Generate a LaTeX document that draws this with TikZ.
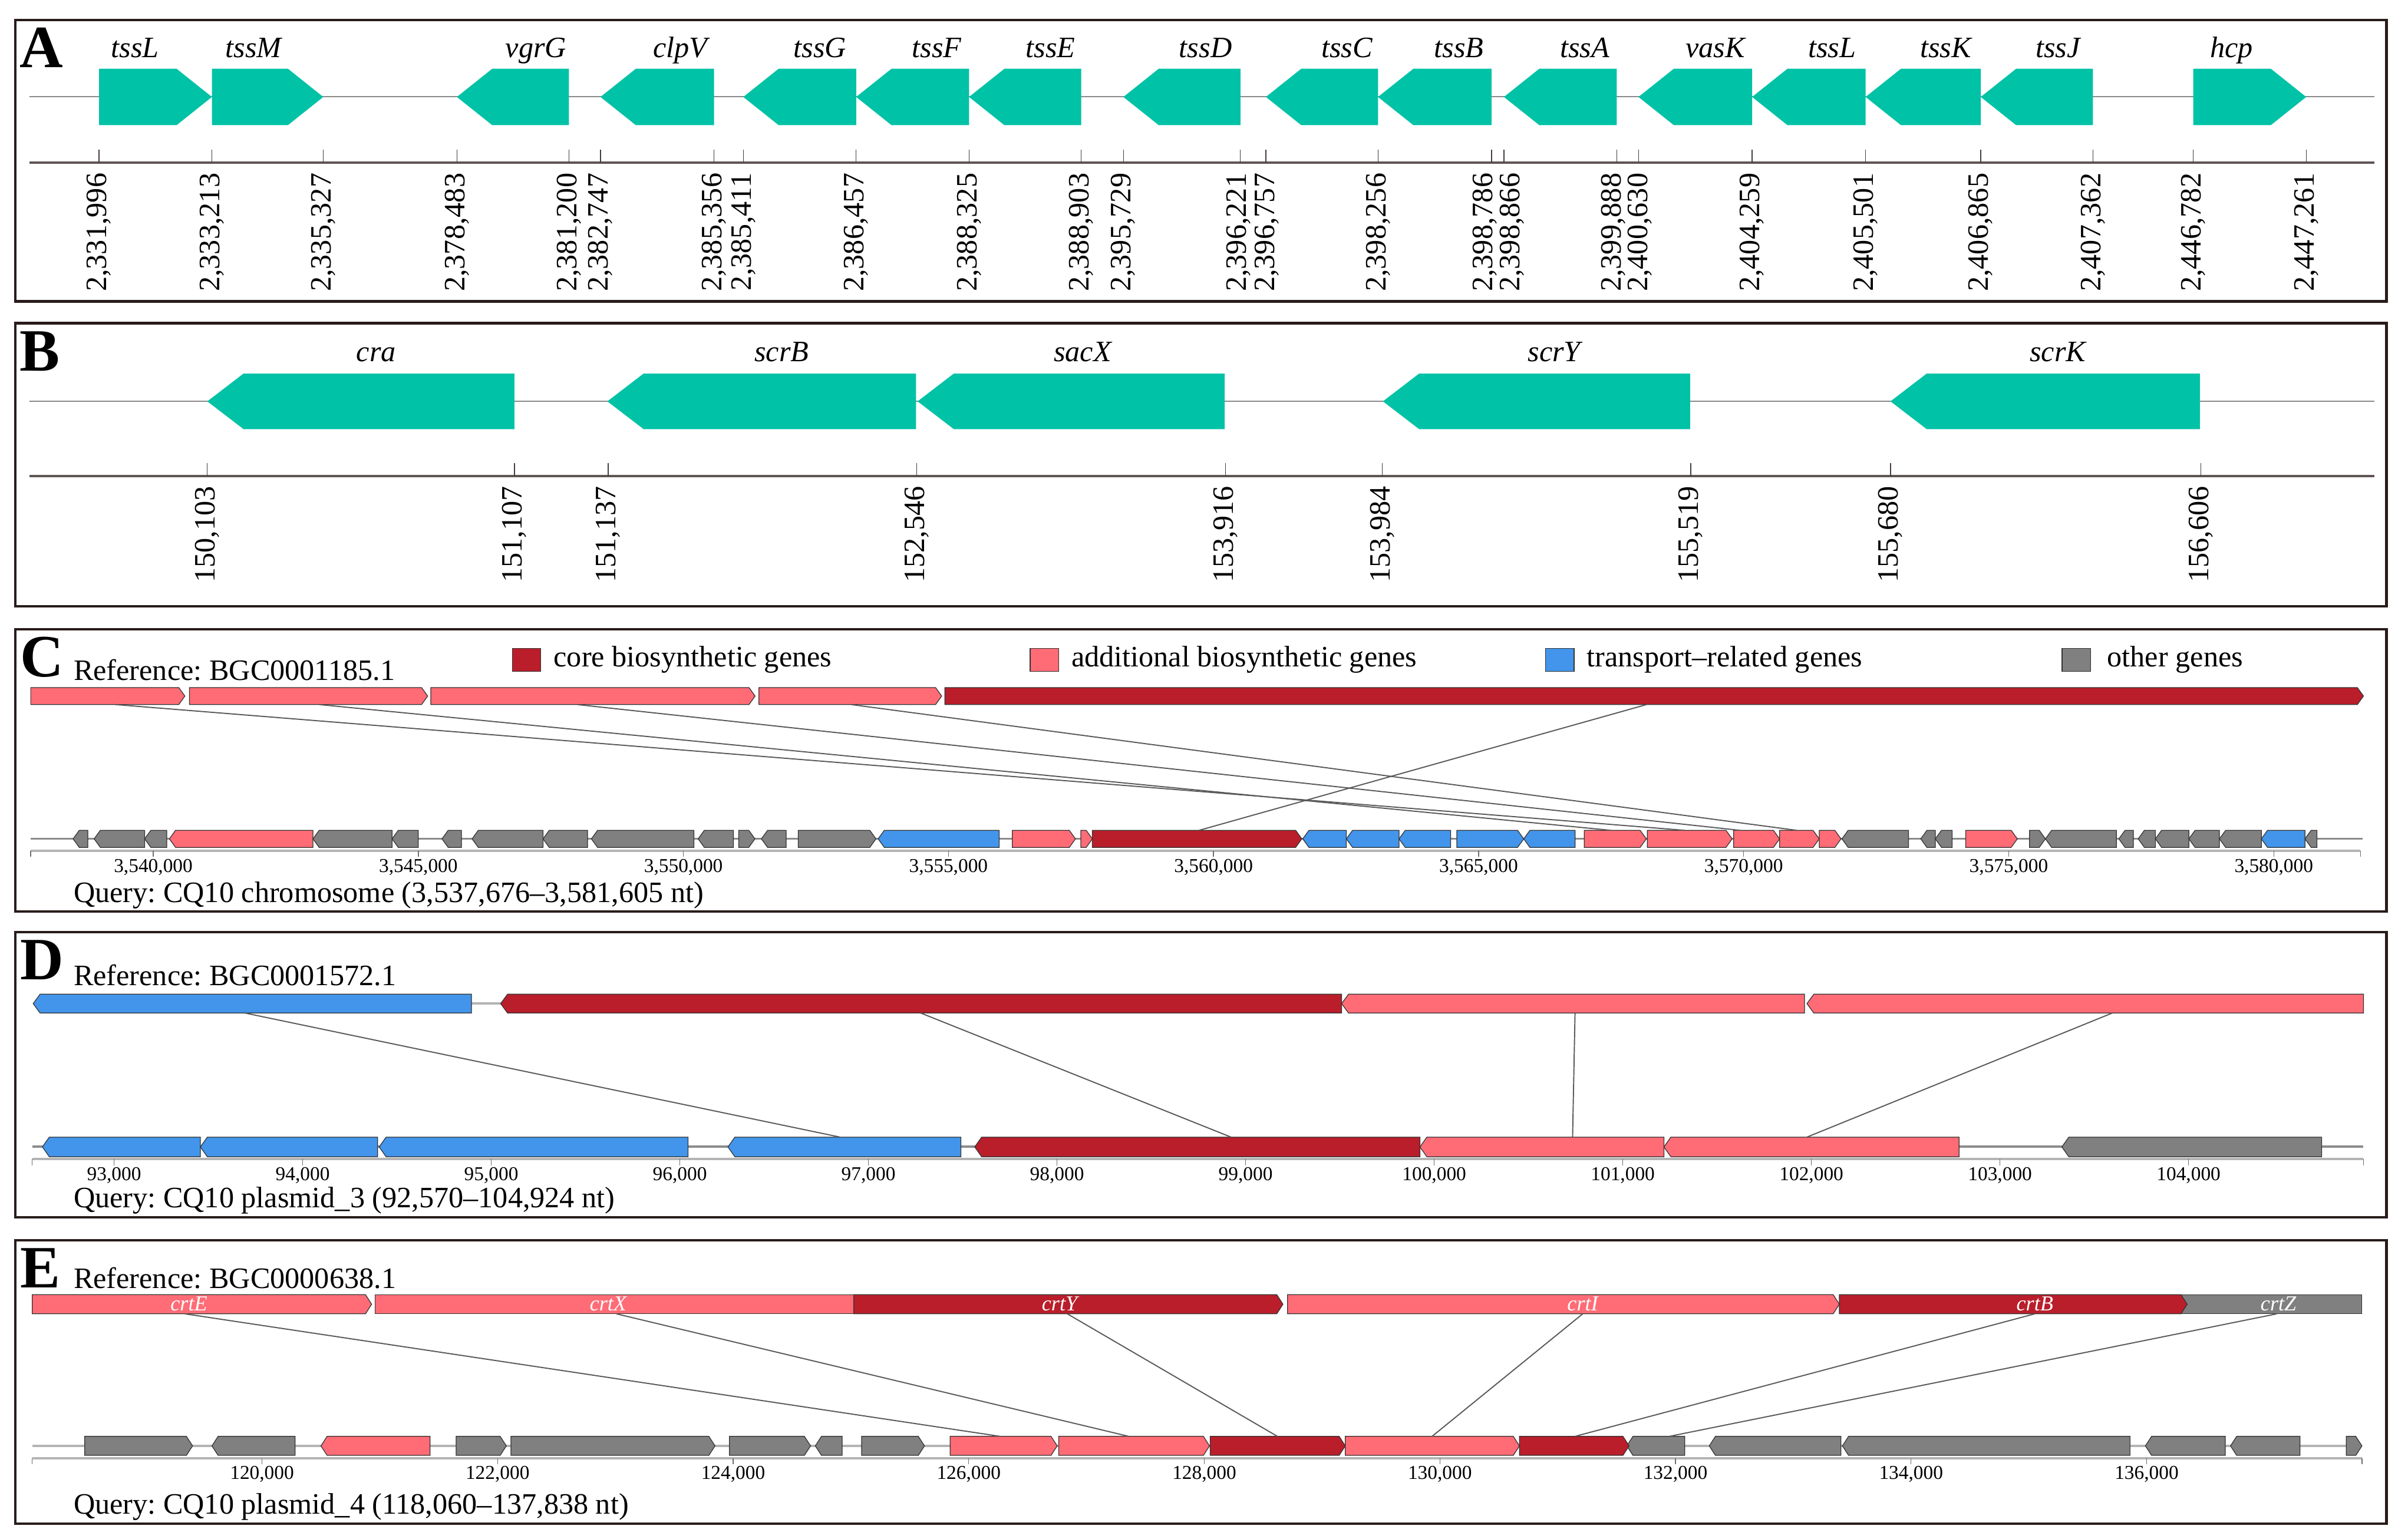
\documentclass[tikz,border=0pt]{standalone}
\usepackage{fontspec}
\setmainfont{Liberation Serif}
\definecolor{cteal}{RGB}{0,194,166}
\definecolor{ccore}{RGB}{185,30,42}
\definecolor{cadd}{RGB}{255,108,118}
\definecolor{ctrans}{RGB}{66,149,234}
\definecolor{cother}{RGB}{128,128,128}
\definecolor{cframe}{RGB}{40,28,26}
\definecolor{cbbone}{RGB}{138,138,138}
\definecolor{caxisA}{RGB}{95,85,85}
\definecolor{ctickA}{RGB}{70,60,60}
\definecolor{caxisS}{RGB}{180,180,180}
\definecolor{ctickS}{RGB}{110,110,110}
\definecolor{cqbone}{RGB}{140,140,140}
\definecolor{cconn}{RGB}{90,90,90}
\newcommand\gT{0}\newcommand\gB{0}\newcommand\gP{0}
\newcommand\settrack[3]{\renewcommand\gT{#1}\renewcommand\gB{#2}\renewcommand\gP{#3}}
\newcommand\geneR[3]{\filldraw[#3] (#1,\gT) -- ({max(#1,#2-\gP)},\gT) -- (#2,{(\gT+\gB)/2}) -- ({max(#1,#2-\gP)},\gB) -- (#1,\gB) -- cycle;}
\newcommand\geneL[3]{\filldraw[#3] (#2,\gT) -- ({min(#2,#1+\gP)},\gT) -- (#1,{(\gT+\gB)/2}) -- ({min(#2,#1+\gP)},\gB) -- (#2,\gB) -- cycle;}
\newcommand\geneBox[3]{\filldraw[#3] (#1,\gT) rectangle (#2,\gB);}
\tikzset{
  panel/.style={draw=cframe,line width=1.2pt},
  tg/.style={fill=cteal,draw=none},
  gcore/.style={fill=ccore,draw=black!80,line width=0.35pt},
  gadd/.style={fill=cadd,draw=black!80,line width=0.35pt},
  gtrans/.style={fill=ctrans,draw=black!80,line width=0.35pt},
  gother/.style={fill=cother,draw=black!80,line width=0.35pt},
  plet/.style={font=\fontsize{29}{32}\selectfont\bfseries,inner sep=0pt,anchor=base west},
  txt/.style={font=\fontsize{14.3}{17}\selectfont,inner sep=0pt,anchor=base west},
  glab/.style={font=\fontsize{14.3}{17}\selectfont\itshape,inner sep=0pt,anchor=base},
  tlabA/.style={font=\fontsize{14.3}{17}\selectfont,inner sep=0pt,rotate=90,anchor=east},
  tlabS/.style={font=\fontsize{9.5}{11}\selectfont,inner sep=0pt,anchor=base},
  elab/.style={font=\fontsize{10.3}{12}\selectfont\itshape,text=white,inner sep=0pt},
  bbone/.style={draw=cbbone,line width=0.6pt},
  axisA/.style={draw=caxisA,line width=1.1pt},
  tickA/.style={draw=ctickA,line width=0.4pt},
  axisS/.style={draw=caxisS,line width=1.2pt},
  tickS/.style={draw=ctickS,line width=0.4pt},
  qbone/.style={draw=cqbone,line width=1.0pt},
  conn/.style={draw=cconn,line width=0.55pt},
}
\begin{document}
\frenchspacing
\begin{tikzpicture}[x=0.2606mm,y=-0.2606mm]
\useasboundingbox (0,0) rectangle (1568,1002);
\fill[white] (0,0) rectangle (1568,1002);
% ---------------- frames
\draw[panel] (10,13) rectangle (1554,196.3);
\draw[panel] (10,210.5) rectangle (1554,395);
\draw[panel] (10,409.9) rectangle (1554,593.8);
\draw[panel] (10,607) rectangle (1554,792.8);
\draw[panel] (10,807.8) rectangle (1554,992.3);
\node[plet] (LA) at (12.5,44) {A};
\node[plet] (LB) at (12.5,241.5) {B};
\node[plet] (LC) at (13,440.6) {C};
\node[plet] (LD) at (13,638) {D};
\node[plet] (LE) at (13,838.5) {E};
% ---------------- panel A
\draw[bbone] (19,63) -- (1546,63);
\draw[axisA] (19,106) -- (1546,106);
\settrack{44.8}{81.5}{23}
\geneR{64.5}{138}{tg}
\geneR{138}{210.5}{tg}
\geneL{297.5}{370.5}{tg}
\geneL{391}{465}{tg}
\geneL{484}{557.5}{tg}
\geneL{557.5}{631}{tg}
\geneL{631}{704}{tg}
\geneL{731.5}{807.7}{tg}
\geneL{824.3}{897.3}{tg}
\geneL{897.3}{971.2}{tg}
\geneL{979.3}{1052.8}{tg}
\geneL{1066.9}{1140.9}{tg}
\geneL{1140.9}{1214.8}{tg}
\geneL{1214.8}{1289.8}{tg}
\geneL{1289.8}{1362.8}{tg}
\geneR{1428.2}{1501.7}{tg}
\foreach \x/\gname [count=\k] in {88/tssL,165/tssM,349/vgrG,443/clpV,534/tssG,610/tssF,684/tssE,785/tssD,877/tssC,950/tssB,1032/tssA,1117/vasK,1193/tssL,1267/tssK,1340/tssJ,1453/hcp}
  \node[glab] (ga\k) at (\x,37.3) {\gname};
\foreach \x/\lx/\tklab [count=\k] in {64.5/64.5/{2,331,996},138/138/{2,333,213},210.5/210.5/{2,335,327},297.5/297.5/{2,378,483},370.5/370.5/{2,381,200},391/391/{2,382,747},465/465/{2,385,356},484/484/{2,385,411},557.5/557.5/{2,386,457},631/631/{2,388,325},704/704/{2,388,903},731.5/731.5/{2,395,729},807.7/806.5/{2,396,221},824.3/825/{2,396,757},897.3/897.3/{2,398,256},971.2/967/{2,398,786},979.3/984.5/{2,398,866},1052.8/1050.5/{2,399,888},1066.9/1068/{2,400,630},1140.9/1140.9/{2,404,259},1214.8/1214.8/{2,405,501},1289.8/1289.8/{2,406,865},1362.8/1362.8/{2,407,362},1428.2/1428.2/{2,446,782},1501.7/1501.7/{2,447,261}}
{
  \draw[tickA] (\x,97.6) -- (\x,106);
  \node[tlabA] (ta\k) at (\lx,112.5) {\tklab};
}
% ---------------- panel B
\draw[bbone] (19,261.4) -- (1546,261.4);
\draw[axisA] (19,310) -- (1546,310);
\settrack{243.3}{279.5}{23.6}
\geneL{135}{335}{tg}
\geneL{395.5}{596.5}{tg}
\geneL{597.5}{797.5}{tg}
\geneL{900.5}{1100.5}{tg}
\geneL{1231}{1432.5}{tg}
\foreach \x/\gname [count=\k] in {245/cra,509/scrB,705/sacX,1012/scrY,1340/scrK}
  \node[glab] (gb\k) at (\x,235.5) {\gname};
\foreach \x/\tklab [count=\k] in {135/{150,103},335/{151,107},396/{151,137},597/{152,546},798/{153,916},900/{153,984},1101/{155,519},1231/{155,680},1433/{156,606}}
{
  \draw[tickA] (\x,301.5) -- (\x,310);
  \node[tlabA] (tb\k) at (\x,316.5) {\tklab};
}
% ---------------- panel C
\node[txt] (refC) at (47.7,443.2) {Reference: BGC0001185.1};
\filldraw[gcore] (333.7,422.4) rectangle (352.2,437.2);
\node[txt] (legcore) at (360.3,434.3) {core biosynthetic genes};
\filldraw[gadd] (670.8,422.4) rectangle (689.3,437.2);
\node[txt] (legadd) at (697.4,434.3) {additional biosynthetic genes};
\filldraw[gtrans] (1006.5,422.4) rectangle (1025,437.2);
\node[txt] (legtrans) at (1033.1,434.3) {transport\textendash related genes};
\filldraw[gother] (1342.7,422.4) rectangle (1361.2,437.2);
\node[txt] (legother) at (1371.9,434.3) {other genes};
\settrack{447.8}{458.9}{4}
\geneR{20}{120.4}{gadd}
\geneR{123.4}{278.5}{gadd}
\geneR{280.5}{491.7}{gadd}
\geneR{494.2}{613.2}{gadd}
\geneR{615.2}{1539}{gcore}
\draw[qbone] (20,546.3) -- (1538.6,546.3);
\draw[axisS] (20,554.2) -- (1537,554.2);
\draw[tickS] (20,554.2) -- (20,557.8);
\draw[tickS] (1537,554.2) -- (1537,557.8);
\foreach \i/\tklab in {0/{3,540,000},1/{3,545,000},2/{3,550,000},3/{3,555,000},4/{3,560,000},5/{3,565,000},6/{3,570,000},7/{3,575,000},8/{3,580,000}}
{
  \draw[tickS] ({99.8+\i*172.6},554.2) -- ({99.8+\i*172.6},557.8);
  \node[tlabS] (tc\i) at ({99.8+\i*172.6},568.2) {\tklab};
}
\settrack{540.8}{551.9}{4}
\geneL{47.6}{57.2}{gother}
\geneL{61.3}{94.2}{gother}
\geneL{94.2}{108.6}{gother}
\geneL{110.3}{203.8}{gadd}
\geneL{203.8}{255.3}{gother}
\geneL{255.3}{272.4}{gother}
\geneL{287.8}{300.5}{gother}
\geneL{307.4}{353.6}{gother}
\geneL{353.6}{382.6}{gother}
\geneL{385.1}{451.9}{gother}
\geneL{454.6}{477.6}{gother}
\geneR{481}{491.6}{gother}
\geneL{495.8}{511.9}{gother}
\geneR{519.8}{570.4}{gother}
\geneL{571.8}{650.6}{gtrans}
\geneR{659.2}{700.3}{gadd}
\geneR{703.8}{711.3}{gadd}
\geneR{711.3}{847.7}{gcore}
\geneL{848.3}{876.7}{gtrans}
\geneL{876.7}{911}{gtrans}
\geneL{911}{944.6}{gtrans}
\geneR{948.6}{992.2}{gtrans}
\geneL{992.2}{1025.7}{gtrans}
\geneR{1031.6}{1072}{gadd}
\geneR{1072.7}{1127.9}{gadd}
\geneR{1128.9}{1158.8}{gadd}
\geneR{1158.8}{1184.6}{gadd}
\geneR{1184.6}{1198.8}{gadd}
\geneL{1199.4}{1242.8}{gother}
\geneL{1250.7}{1260.2}{gother}
\geneL{1260.2}{1271.2}{gother}
\geneR{1280}{1313.6}{gadd}
\geneR{1321.5}{1331.9}{gother}
\geneL{1331.9}{1378.1}{gother}
\geneL{1379.7}{1389.2}{gother}
\geneL{1392.3}{1403.5}{gother}
\geneL{1403.5}{1425.3}{gother}
\geneL{1425.3}{1445.2}{gother}
\geneL{1445.2}{1472.5}{gother}
\geneL{1472.5}{1500.9}{gtrans}
\geneL{1500.9}{1508.7}{gother}
\coordinate (c1s) at (75.3,458.9);   \coordinate (c1e) at (1097,540.8);
\coordinate (c2s) at (208,458.9);    \coordinate (c2e) at (1049,540.8);
\coordinate (c3s) at (376,458.9);    \coordinate (c3e) at (1133,540.8);
\coordinate (c4s) at (554.4,458.9);  \coordinate (c4e) at (1170,540.8);
\coordinate (c5s) at (1072.1,458.9); \coordinate (c5e) at (780.8,540.8);
\foreach \k in {1,...,5} \draw[conn] (c\k s) -- (c\k e);
\node[txt] (qC) at (47.7,587.8) {Query: CQ10 chromosome (3,537,676\textendash 3,581,605 nt)};
% ---------------- panel D
\node[txt] (refD) at (47.7,642) {Reference: BGC0001572.1};
\draw[axisS] (307,653.6) -- (326,653.6);
\settrack{647.5}{659.8}{4.5}
\geneL{21.6}{307}{gtrans}
\geneL{326}{873.6}{gcore}
\geneL{873.6}{1175}{gadd}
\geneL{1176.6}{1539}{gadd}
\draw[qbone] (21,746.7) -- (1539,746.7);
\draw[axisS] (21,754.7) -- (1539,754.7);
\draw[tickS] (21,754.7) -- (21,759);
\draw[tickS] (1539,754.7) -- (1539,759);
\foreach \i/\tklab in {0/{93,000},1/{94,000},2/{95,000},3/{96,000},4/{97,000},5/{98,000},6/{99,000},7/{100,000},8/{101,000},9/{102,000},10/{103,000},11/{104,000}}
{
  \draw[tickS] ({74.3+\i*122.8},754.7) -- ({74.3+\i*122.8},759);
  \node[tlabS] (td\i) at ({74.3+\i*122.8},768.7) {\tklab};
}
\settrack{740.6}{753.4}{4.5}
\geneL{27.6}{130.5}{gtrans}
\geneL{130.5}{245.9}{gtrans}
\geneL{246.9}{448}{gtrans}
\geneL{474}{625.7}{gtrans}
\geneL{634.7}{924.6}{gcore}
\geneL{924.6}{1083.5}{gadd}
\geneL{1083.5}{1275.7}{gadd}
\geneL{1342.6}{1511.8}{gother}
\coordinate (d1s) at (159.6,659.8);  \coordinate (d1e) at (547,740.6);
\coordinate (d2s) at (599.6,659.8);  \coordinate (d2e) at (801.6,740.6);
\coordinate (d3s) at (1025.6,659.8); \coordinate (d3e) at (1024,740.6);
\coordinate (d4s) at (1375.4,659.8); \coordinate (d4e) at (1176.6,740.6);
\foreach \k in {1,...,4} \draw[conn] (d\k s) -- (d\k e);
\node[txt] (qD) at (47.7,786.6) {Query: CQ10 plasmid\_3 (92,570\textendash 104,924 nt)};
% ---------------- panel E
\node[txt] (refE) at (47.7,839.1) {Reference: BGC0000638.1};
\settrack{843.2}{855.7}{4}
\geneR{21}{242}{gadd}
\geneBox{244.4}{556}{gadd}
\geneR{556}{835.4}{gcore}
\geneR{838.4}{1197.7}{gadd}
\geneBox{1420.7}{1538}{gother}
\geneR{1197.7}{1424.2}{gcore}
\foreach \x/\gname [count=\k] in {123/crtE,396/crtX,690/crtY,1030.6/crtI,1325/crtB,1483.6/crtZ}
  \node[elab] (ge\k) at (\x,849.3) {\gname};
\draw[axisS] (21,941.8) -- (1538,941.8);
\draw[axisS] (21,949.8) -- (1538,949.8);
\draw[tickS] (21,949.8) -- (21,953.5);
\draw[tickS] (1538,949.8) -- (1538,953.5);
\foreach \i/\tklab in {0/{120,000},1/{122,000},2/{124,000},3/{126,000},4/{128,000},5/{130,000},6/{132,000},7/{134,000},8/{136,000}}
{
  \draw[tickS] ({170.6+\i*153.4},949.8) -- ({170.6+\i*153.4},953.5);
  \node[tlabS] (te\i) at ({170.6+\i*153.4},963.4) {\tklab};
}
\settrack{935.5}{947.9}{4}
\geneR{55.2}{125.4}{gother}
\geneL{138}{192.2}{gother}
\geneL{209}{280}{gadd}
\geneR{297}{329.7}{gother}
\geneR{332.7}{465.6}{gother}
\geneR{475}{527.8}{gother}
\geneL{530.9}{548.4}{gother}
\geneR{561}{602}{gother}
\geneR{618.7}{688.4}{gadd}
\geneR{689.4}{787.6}{gadd}
\geneR{788}{876}{gcore}
\geneR{876}{989.4}{gadd}
\geneL{1059.3}{1097}{gother}
\geneR{989.4}{1060.8}{gcore}
\geneL{1113}{1198.7}{gother}
\geneL{1199.7}{1387}{gother}
\geneL{1397}{1449}{gother}
\geneL{1452.4}{1497.7}{gother}
\geneR{1527.8}{1538}{gother}
\coordinate (e1s) at (120.4,855.7);  \coordinate (e1e) at (651.3,935.5);
\coordinate (e2s) at (401.4,855.7);  \coordinate (e2e) at (735,935.5);
\coordinate (e3s) at (695,855.7);    \coordinate (e3e) at (831.8,935.5);
\coordinate (e4s) at (1030.6,855.7); \coordinate (e4e) at (932.5,935.5);
\coordinate (e5s) at (1325,855.7);   \coordinate (e5e) at (1025.6,935.5);
\coordinate (e6s) at (1482.6,855.7); \coordinate (e6e) at (1087,935.5);
\foreach \k in {1,...,6} \draw[conn] (e\k s) -- (e\k e);
\node[txt] (qE) at (47.7,986.2) {Query: CQ10 plasmid\_4 (118,060\textendash 137,838 nt)};
\end{tikzpicture}
\end{document}
